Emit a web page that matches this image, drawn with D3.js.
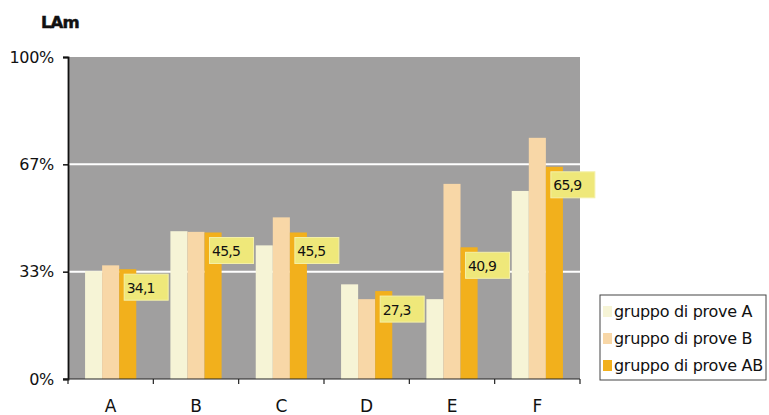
<!DOCTYPE html>
<html>
<head>
<meta charset="utf-8">
<script src="https://cdn.jsdelivr.net/npm/d3@7"></script>
<style>
  html, body { margin: 0; padding: 0; background: #fff; }
  svg { display: block; font-family: "DejaVu Sans", Verdana, sans-serif; }
</style>
</head>
<body>
<svg id="chart" width="769" height="415"></svg>
<script>
// Categories and series
const categories = ["A", "B", "C", "D", "E", "F"];
const seriesNames = ["gruppo di prove A", "gruppo di prove B", "gruppo di prove AB"];
const valuesA  = [33.5, 45.9, 41.5, 29.4, 24.8, 58.4];
const valuesB  = [35.3, 45.7, 50.2, 24.8, 60.6, 74.9];
const valuesAB = [34.1, 45.5, 45.5, 27.3, 40.9, 65.9];
const labelsAB = ["34,1", "45,5", "45,5", "27,3", "40,9", "65,9"];
const yTickValues = [0, 100 / 3, 200 / 3, 100];
const yTickLabels = ["0%", "33%", "67%", "100%"];
const colors = ["#f6f4d6", "#f8d7a7", "#f2b01c"];

const svg = d3.select("#chart");
const plot = { left: 68, top: 57, right: 580, bottom: 379 };

const x0 = d3.scaleBand()
  .domain(categories)
  .range([plot.left, plot.right])
  .paddingInner(0.4)
  .paddingOuter(0.2);
const x1 = d3.scaleBand()
  .domain(d3.range(3))
  .range([0, x0.bandwidth()]);
const y = d3.scaleLinear().domain([0, 100]).range([plot.bottom, plot.top]);

// Grey plot area
svg.append("rect")
  .attr("x", plot.left).attr("y", plot.top)
  .attr("width", plot.right - plot.left).attr("height", plot.bottom - plot.top)
  .attr("fill", "#a09f9f");

// White gridlines
svg.append("g").selectAll("line")
  .data(yTickValues.slice(1, 3))
  .join("line")
  .attr("x1", plot.left).attr("x2", plot.right)
  .attr("y1", d => y(d)).attr("y2", d => y(d))
  .attr("stroke", "#fff").attr("stroke-width", 2);

// Bars
const series = [valuesA, valuesB, valuesAB];
const groups = svg.append("g").selectAll("g")
  .data(categories)
  .join("g")
  .attr("transform", d => `translate(${x0(d)},0)`);
groups.selectAll("rect")
  .data((c, i) => series.map((s, k) => ({ k, v: s[i] })))
  .join("rect")
  .attr("x", d => x1(d.k))
  .attr("width", x1.bandwidth())
  .attr("y", d => y(d.v))
  .attr("height", d => y(0) - y(d.v))
  .attr("fill", d => colors[d.k]);

// Value labels for the AB series
const lab = svg.append("g").selectAll("g")
  .data(categories)
  .join("g")
  .attr("transform", (c, i) => `translate(${x0(c) + x1(2) + 5},${y(valuesAB[i]) + 5})`);
lab.append("rect")
  .attr("width", 44).attr("height", 26)
  .attr("fill", "#efe87a").attr("stroke", "#f4f0a8").attr("stroke-width", 1);
lab.append("text")
  .attr("x", 2.5).attr("y", 18.5)
  .attr("font-size", 14).attr("letter-spacing", -0.8)
  .attr("fill", "#111")
  .text((c, i) => labelsAB[i]);

// Y axis
const yAxis = d3.axisLeft(y)
  .tickValues(yTickValues)
  .tickFormat((d, i) => yTickLabels[i])
  .tickSize(5).tickPadding(9);
const gy = svg.append("g").attr("transform", `translate(${plot.left},0)`).call(yAxis);
gy.select(".domain").attr("stroke", "#111").attr("stroke-width", 1.8);
gy.selectAll(".tick line").attr("stroke", "#111").attr("stroke-width", 1.5);
gy.selectAll(".tick text").attr("font-size", 16).attr("font-family", "DejaVu Sans")
  .attr("fill", "#111").attr("letter-spacing", -0.3);

// X axis with ticks at category boundaries
const gx = svg.append("g").attr("transform", `translate(0,${plot.bottom})`);
gx.append("line")
  .attr("x1", plot.left - 5).attr("x2", plot.right)
  .attr("stroke", "#222").attr("stroke-width", 1.2);
const boundaries = categories.map(c => x0(c) - x0.step() * x0.paddingInner() / 2 + x0.step());
boundaries.unshift(plot.left);
gx.selectAll(".xt")
  .data(boundaries)
  .join("line")
  .attr("x1", d => d).attr("x2", d => d)
  .attr("y1", 0).attr("y2", 5)
  .attr("stroke", "#222").attr("stroke-width", 1.2);
gx.selectAll("text")
  .data(categories)
  .join("text")
  .attr("x", d => x0(d) + x0.bandwidth() / 2)
  .attr("y", 33)
  .attr("text-anchor", "middle")
  .attr("font-size", 17)
  .attr("fill", "#111")
  .text(d => d);

// Title
svg.append("text")
  .attr("x", 41).attr("y", 28)
  .attr("font-size", 16.5).attr("font-weight", 900)
  .attr("letter-spacing", -0.9)
  .attr("stroke", "#111").attr("stroke-width", 0.5)
  .attr("fill", "#111")
  .text("LAm");

// Legend
const legend = svg.append("g").attr("transform", "translate(600,295)");
legend.append("rect")
  .attr("width", 166).attr("height", 85)
  .attr("fill", "#fff").attr("stroke", "#444").attr("stroke-width", 1);
const items = legend.selectAll(".item")
  .data(seriesNames)
  .join("g")
  .attr("transform", (d, i) => `translate(3,${11 + i * 27})`);
items.append("rect")
  .attr("width", 9).attr("height", 11)
  .attr("fill", (d, i) => colors[i]);
items.append("text")
  .attr("x", 11).attr("y", 11)
  .attr("font-size", 16).attr("letter-spacing", -0.3)
  .attr("fill", "#111")
  .text(d => d);
</script>
</body>
</html>
